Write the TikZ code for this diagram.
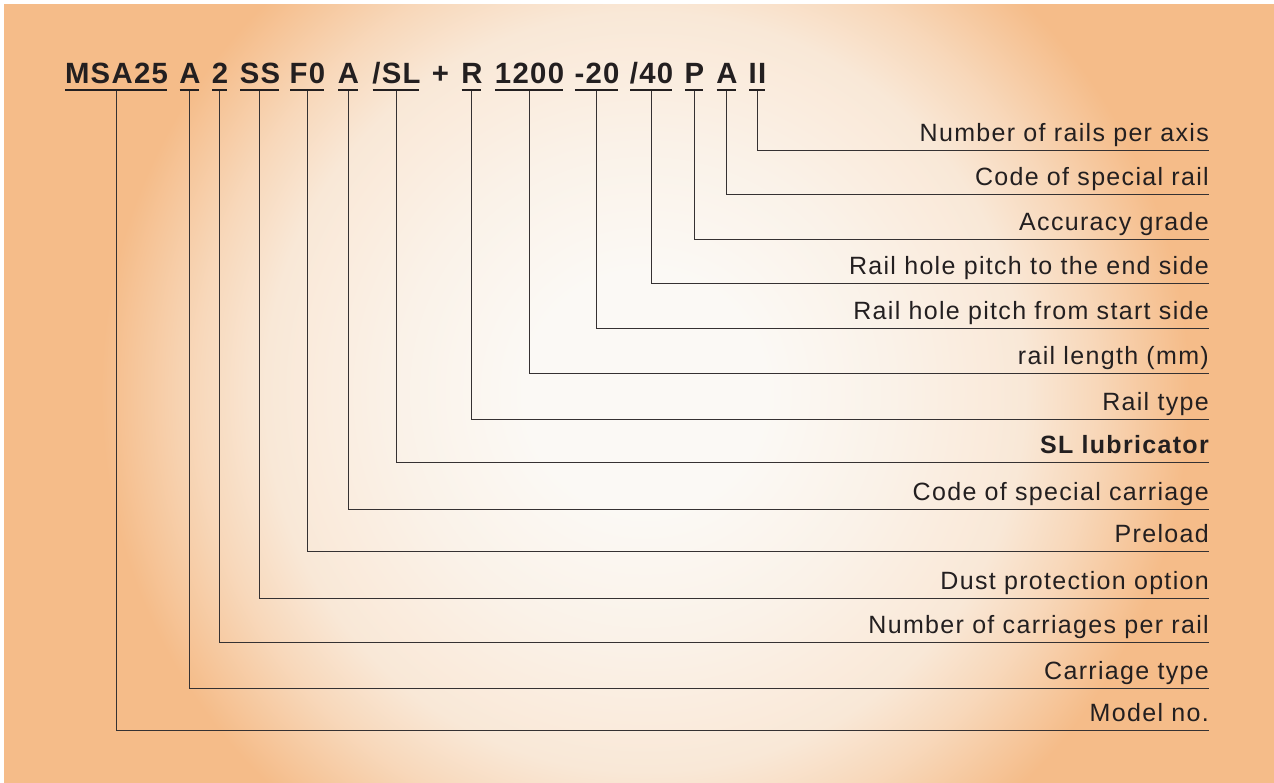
\documentclass[tikz,border=0pt]{standalone}
\usepackage{fontspec}
\setmainfont{Liberation Sans}
\usetikzlibrary{calc}
\definecolor{bgorange}{RGB}{245,188,137}
\definecolor{bgcenter}{RGB}{251,249,245}
\definecolor{ink}{RGB}{35,31,32}
\colorlet{bgA}{bgorange!12!bgcenter}
\colorlet{bgB}{bgorange!28!bgcenter}
\colorlet{bgC}{bgorange!55!bgcenter}
% tikz maps the 25bp radius onto the path's bounding box (circle radius 1000pt -> 1bp = 40pt)
\pgfdeclareradialshading{bgshade}{\pgfpoint{0bp}{0bp}}{color(0bp)=(bgcenter); color(3bp)=(bgcenter); color(6.25bp)=(bgA); color(9.5bp)=(bgB); color(11.25bp)=(bgC); color(13.6bp)=(bgorange); color(50bp)=(bgorange)}
\begin{document}
\begin{tikzpicture}[x=1pt,y=-1pt,
  tw/.style={inner sep=0pt, anchor=base, text=ink, font=\fontsize{29.3}{30}\selectfont\bfseries\addfontfeature{LetterSpace=4.5}},
  lab/.style={inner sep=0pt, anchor=base east, text=ink, font=\fontsize{25}{26}\selectfont\addfontfeature{LetterSpace=5.3}},
  ul/.style={line width=2pt, draw=ink},
  conn/.style={line width=1pt, draw=ink!92!white}]
% background
\fill[white] (0,0) rectangle (1274,783);
\begin{scope}
  \clip (4,5) rectangle (1274,783);
  \path[shading=bgshade] (645,392) circle (1000pt);
\end{scope}
\useasboundingbox (0,0) rectangle (1274,783);
% title words
\node[tw] (w1)  at (116.5,84) {MSA25};
\node[tw] (w2)  at (190,84)   {A};
\node[tw] (w3)  at (220,84)   {2};
\node[tw] (w4)  at (260,84)   {SS};
\node[tw] (w5)  at (307.5,84) {F0};
\node[tw] (w6)  at (348.5,84) {A};
\node[tw] (w7)  at (396.5,84) {/SL};
\node[tw] (wp)  at (440.5,84) {+};
\node[tw] (w9)  at (472,84)   {R};
\node[tw] (w10) at (529.5,84) {1200};
\node[tw] (w11) at (597,84)   {-20};
\node[tw] (w12) at (651.5,84) {/40};
\node[tw] (w13) at (694.5,84) {P};
\node[tw] (w14) at (727,84)   {A};
\node[tw] (w15) at (757.5,84) {II};
% underlines
\foreach \w in {w1,w2,w3,w4,w5,w6,w7,w9,w10,w11,w12,w13,w14,w15}
  \draw[ul] ([xshift=0.5pt,yshift=-6.5pt]\w.base west) -- ([xshift=-1.5pt,yshift=-6.5pt]\w.base east);
% labels
\node[lab] (l1)  at (1209,142) {Number of rails per axis};
\node[lab] (l2)  at (1209,186) {Code of special rail};
\node[lab] (l3)  at (1209,231) {Accuracy grade};
\node[lab] (l4)  at (1209,275) {Rail hole pitch to the end side};
\node[lab] (l5)  at (1209,320) {Rail hole pitch from start side};
\node[lab] (l6)  at (1209,365) {rail length (mm)};
\node[lab] (l7)  at (1209,410) {Rail type};
\node[lab] (l8)  at (1209,453) {\bfseries SL lubricator};
\node[lab] (l9)  at (1209,500) {Code of special carriage};
\node[lab] (l10) at (1209,542) {Preload};
\node[lab] (l11) at (1209,589) {Dust protection option};
\node[lab] (l12) at (1209,633) {Number of carriages per rail};
\node[lab] (l13) at (1209,679) {Carriage type};
\node[lab] (l14) at (1209,721) {Model no.};
% connectors
\foreach \w/\l in {w15/l1,w14/l2,w13/l3,w12/l4,w11/l5,w10/l6,w9/l7,w7/l8,w6/l9,w5/l10,w4/l11,w3/l12,w2/l13,w1/l14}
  \draw[conn] ([xshift=-0.5pt,yshift=-7.5pt]\w.base) |- ([yshift=-9pt]\l.base east);
\end{tikzpicture}
\end{document}
